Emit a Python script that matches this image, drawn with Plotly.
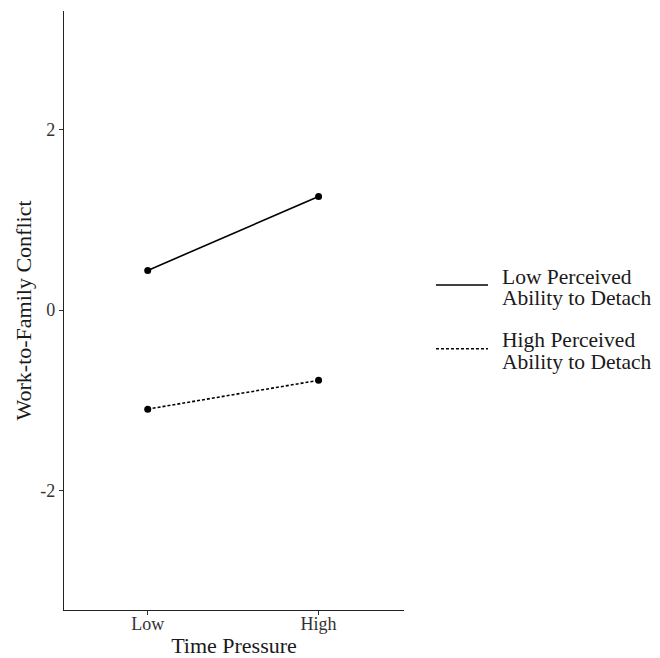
import plotly.graph_objects as go

time_pressure = ["Low", "High"]
x_pos = [1, 2]
low_detach = [0.44, 1.26]
high_detach = [-1.10, -0.78]
legend_lines = [["Low Perceived", "Ability to Detach"], ["High Perceived", "Ability to Detach"]]
y_ticks = [-2, 0, 2]

font_family = "Liberation Serif, Times New Roman, serif"
dash_styles = ["solid", "3px,2px"]

fig = go.Figure()
for vals, dash in zip([low_detach, high_detach], dash_styles):
    fig.add_trace(go.Scatter(
        x=x_pos, y=vals, mode="lines+markers", showlegend=False,
        line=dict(color="black", width=1.6, dash=dash),
        marker=dict(color="black", size=7),
    ))

# Manual legend (keys and labels), placed in paper coordinates to the right of the panel
key_y = [0.5426, 0.4362]
text_y = [[0.5559, 0.5209], [0.4508, 0.4145]]
shapes = []
annotations = []
for i in range(2):
    shapes.append(dict(type="line", xref="paper", yref="paper",
                       x0=1.094, x1=1.247, y0=key_y[i], y1=key_y[i],
                       line=dict(color="black", width=1.6, dash=dash_styles[i])))
    for j in range(2):
        annotations.append(dict(xref="paper", yref="paper", x=1.282, y=text_y[i][j],
                                xanchor="left", yanchor="middle", showarrow=False,
                                text=legend_lines[i][j],
                                font=dict(size=21.5, color="#1a1a1a", family=font_family)))

fig.update_layout(
    width=660, height=658,
    margin=dict(l=64, r=256, t=11, b=48, autoexpand=False),
    paper_bgcolor="white", plot_bgcolor="white",
    font=dict(family=font_family, color="#1a1a1a", size=18),
    showlegend=False,
    shapes=shapes, annotations=annotations,
    xaxis=dict(
        range=[0.51, 2.5], tickmode="array", tickvals=x_pos, ticktext=time_pressure,
        showline=True, linecolor="#222", linewidth=1.3, mirror=False,
        ticks="outside", ticklen=4, tickcolor="#333", tickwidth=1,
        showgrid=False, zeroline=False, automargin=False,
        tickfont=dict(size=18, color="#333"), ticklabelstandoff=-7,
        title=dict(text="Time Pressure", font=dict(size=22, color="#1a1a1a"), standoff=16),
    ),
    yaxis=dict(
        range=[-3.33, 3.32], tickmode="array", tickvals=y_ticks,
        ticktext=[str(v) for v in y_ticks],
        showline=True, linecolor="#222", linewidth=1.3, mirror=False,
        ticks="outside", ticklen=4, tickcolor="#333", tickwidth=1,
        showgrid=False, zeroline=False, automargin=False,
        tickfont=dict(size=18, color="#333"),
        title=dict(text="Work-to-Family Conflict", font=dict(size=22, color="#1a1a1a"), standoff=2),
    ),
)

fig.write_html("out.html", config={"displayModeBar": False},
               post_script="document.body.style.margin='0';")
